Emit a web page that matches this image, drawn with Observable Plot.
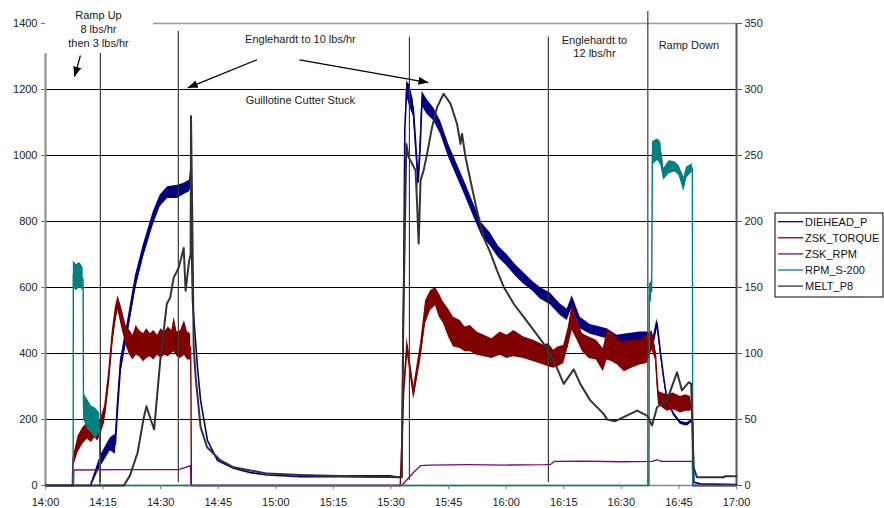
<!DOCTYPE html>
<html><head><meta charset="utf-8">
<script src="https://cdn.jsdelivr.net/npm/d3@7"></script>
<script src="https://cdn.jsdelivr.net/npm/@observablehq/plot@0.6"></script>
<style>
body{margin:0;background:#fff;}
#chart{width:884px;height:508px;}
</style></head><body><div id="chart"></div>
<script>
// Time = minutes after 14:00. Rows: [minute, value] or [minute, low, high] (noisy band), left-axis units.
const seriesNames = ["DIEHEAD_P","ZSK_TORQUE","ZSK_RPM","RPM_S-200","MELT_P8"];
const seriesColors = ["#000080","#800000","#800080","#008080","#333333"];

const DIEHEAD_P = [[0,0],[11.7,0],[14.3,55,90],[16.9,105,145],[18.2,95,155],[18.75,200,260],[19.5,330,380],[21.4,455,500],[23.4,590,635],[25.5,690,730],[28.1,790,830],[29.9,845,880],[31.8,870,905],[34.4,870,910],[35.9,880,915],[37.5,890,925],[37.8,900,960],[38.3,560],[39.6,357],[40.4,258],[42.2,136],[44.8,76],[49.0,52],[53.4,39],[57.8,32],[66.4,27],[79.4,24,30],[89.8,22,30],[92.8,25],[93.3,600],[93.6,1080],[94.1,1180,1225],[94.8,1150,1215],[95.8,1120,1170],[96.5,1000,1050],[97.1,900,940],[97.6,1000,1050],[98.1,1150,1195],[99.4,1125,1170],[101.1,1105,1145],[102.9,1065,1105],[105.0,995,1035],[107.2,935,975],[109.4,875,915],[111.5,815,855],[113.7,755,795],[115.9,725,765],[118.0,690,725],[120.2,665,700],[122.4,635,670],[124.6,610,645],[126.8,590,620],[128.9,565,600],[131.5,548,583],[134.1,515,550],[135.9,500,535],[137.2,540,575],[139.3,475,510],[141.9,458,488],[146.3,445,475],[148.9,425,455],[151.5,430,460],[154.9,435,465],[156.7,435,465],[158.4,425,455],[159.3,480,505],[160.2,395,410],[161.0,325,335],[161.9,255,265],[163.6,212,222],[165.4,185,195],[167.1,180,190],[168.2,190,200],[168.6,190],[168.9,10],[170.6,5],[180,3]];

const ZSK_TORQUE = [[0,0],[7.0,0],[7.1,50,80],[8.5,100,150],[9.7,125,175],[10.9,140,190],[12.0,130,185],[12.8,145,195],[13.6,135,185],[14.3,150,200],[15.4,190,240],[16.4,290,340],[17.4,420,470],[18.2,490,540],[18.9,530,575],[19.8,480,540],[21.1,420,480],[22.0,395,470],[22.8,380,455],[23.6,395,485],[24.5,390,470],[25.5,375,460],[26.4,385,475],[27.3,390,460],[28.2,380,470],[29.2,395,455],[30.1,385,475],[31.0,395,465],[32.0,390,480],[32.9,400,470],[33.5,405,510],[34.3,390,465],[35.2,385,470],[36.2,395,500],[37.0,380,465],[37.8,380,460],[37.9,280],[38.0,0],
[92.4,0],[93.3,260,300],[94.2,400,450],[94.6,370,410],[95.9,260,300],[97.7,380,430],[99.0,490,560],[100.3,530,590],[101.6,545,600],[102.6,510,580],[103.7,490,555],[105.0,450,535],[106.3,420,510],[108.0,415,500],[109.3,405,480],[110.7,405,485],[112.4,395,465],[114.3,390,455],[116.3,385,445],[118.5,395,465],[120.2,385,455],[122.0,390,470],[124.6,385,450],[127.2,375,440],[129.8,365,425],[131.0,360,430],[132.4,355,410],[133.5,360,420],[135.0,370,425],[136.2,420,480],[137.2,470,550],[138.5,440,500],[139.9,405,460],[141.6,385,450],[143.5,380,440],[145.3,345,415],[146.3,380,470],[147.6,375,465],[149.0,365,445],[150.8,345,435],[152.7,355,440],[154.9,365,440],[156.7,370,455],[158.0,410,470],[158.9,380,420],[159.3,300,340],[159.7,245,285],[161.9,225,275],[163.5,230,280],[165.4,220,270],[166.8,225,275],[168.0,225,270],[168.5,230],[168.6,0],[180,0]];

const ZSK_RPM = [[0,0],[7.3,0],[7.4,47],[20,48],[34.7,48],[37.8,60],[37.9,0],[92.8,0],[95.9,40],[97.7,60],[100,62],[110,63],[120,62],[130,63],[131.6,64],[132.5,73],[140,74],[150,72],[158,73],[159.3,78],[160.5,73],[168.5,73],[168.6,0],[180,0]];

const RPM_S200 = [[0,0],[7.2,0],[7.25,600,680],[8.0,590,670],[9.0,600,675],[9.8,590,660],[9.9,200,280],[11.0,170,260],[12.0,160,240],[13.0,140,235],[14.1,160,220],[14.15,0],[157.2,0],[157.3,550,610],[157.9,560,620],[158.1,960,1040],[158.5,975,1045],[159.5,985,1050],[160.3,970,1040],[161.0,925,960],[162.5,945,985],[164.0,950,980],[165.0,940,970],[166.3,890,935],[167.0,930,965],[168.5,950,975],[168.6,0],[180,0]];

const MELT_P8 = [[0,0],[20.4,0],[22.0,30],[24.0,100],[25.5,200],[26.3,240],[27.4,200],[28.3,170],[29.9,380],[31.6,550],[32.5,570],[33.4,630],[34.7,660],[36.0,720],[36.5,590],[37.4,680],[37.8,700],[37.9,1120],[38.2,850],[38.6,420],[39.1,330],[40.4,177],[42.1,116],[45.6,76],[49.0,55],[57.8,36],[66.4,32],[79.4,28],[92.0,25],[92.8,25],[93.2,500],[94.0,1035],[94.6,995],[95.5,975],[96.4,955],[96.8,854],[97.2,733],[97.7,924],[98.5,955],[99.4,1005],[100.7,1086],[102.0,1146],[103.7,1187],[105.5,1157],[107.2,1096],[108.1,1035],[108.5,1066],[109.4,995],[110.7,924],[112.4,833],[114.1,752],[115.9,705],[117.6,652],[119.4,601],[122.0,550],[124.6,510],[127.2,470],[129.8,429],[132.4,379],[135.0,308],[137.6,352],[139.3,308],[141.9,258],[145.4,217],[146.3,200],[148.4,195],[150.6,207],[154.1,227],[156.7,212],[158.0,182],[159.3,237],[161.9,258],[164.5,343],[165.8,288],[167.6,313],[168.2,308],[168.8,55],[169.7,25],[176.6,25],[177.1,28],[180,28]];

const seriesData = [DIEHEAD_P, ZSK_TORQUE, ZSK_RPM, RPM_S200, MELT_P8];
const seriesWidths = [1.6, 1.4, 1.3, 1.4, 2.0];

const xTickLabels = ["14:00","14:15","14:30","14:45","15:00","15:15","15:30","15:45","16:00","16:15","16:30","16:45","17:00"];
const yTicksLeft = [0,200,400,600,800,1000,1200,1400];
const rightAxisRatio = 4; // right axis = left / 4 (0–350)

// annotation lines (vertical), texts and arrows
const vlineMin = [14.3, 34.6, 94.8, 131.0, 156.9];
const vlineTop = [1309, 1376, 1358, 1358, 1436];
const vlineBottom = [9, 9, 15, 9, 0];
const noteText = ["Ramp Up","8 lbs/hr","then 3 lbs/hr","Englehardt to 10 lbs/hr","Guillotine Cutter Stuck","Englehardt to","12 lbs/hr","Ramp Down"];
const noteMin = [13.8, 13.8, 13.8, 66.4, 66.4, 143.0, 143.0, 167.6];
const noteVal = [1425, 1382, 1339, 1351, 1166, 1349, 1308, 1334];
const arrowFromMin = [9.1, 55.1, 66.15];
const arrowFromVal = [1303, 1290, 1290];
const arrowToMin = [7.55, 37.06, 99.74];
const arrowToVal = [1239, 1205, 1221];

const t0 = Date.UTC(2000, 0, 1, 14, 0);
const T = m => new Date(t0 + m * 60000);
const parseHM = s => { const [h, m] = s.split(":").map(Number); return (h - 14) * 60 + m; };

const marks = [];
// grid and axis lines
marks.push(Plot.ruleY(yTicksLeft.filter(v => v > 0 && v < 1400), {x1: T(0), x2: T(180), stroke: "#000", strokeWidth: 1}));
marks.push(Plot.ruleY([1400], {x1: T(28.1), x2: T(180), stroke: "#999", strokeWidth: 1.5}));
marks.push(Plot.ruleY([0], {x1: T(0), x2: T(180), stroke: "#888", strokeWidth: 1.5}));
marks.push(Plot.ruleX([T(0)], {y1: 0, y2: 1309, stroke: "#888", strokeWidth: 2}));
marks.push(Plot.ruleX([T(180)], {y1: 0, y2: 1400, stroke: "#555", strokeWidth: 2}));

seriesData.forEach((arr, i) => {
  const rows = arr.map(d => ({t: T(d[0]), lo: d[1], hi: d.length > 2 ? d[2] : d[1], mid: d.length > 2 ? (d[1] + d[2]) / 2 : d[1]}));
  marks.push(Plot.areaY(rows, {x: "t", y1: "lo", y2: "hi", fill: seriesColors[i]}));
  marks.push(Plot.line(rows, {x: "t", y: "mid", stroke: seriesColors[i], strokeWidth: seriesWidths[i]}));
});

marks.push(Plot.ruleX(vlineMin.map((m, i) => ({t: T(m), y1: vlineBottom[i], y2: vlineTop[i]})), {x: "t", y1: "y1", y2: "y2", stroke: "#3a3a3a", strokeWidth: 1.2}));

marks.push(Plot.text(noteText.map((s, i) => ({s, t: T(noteMin[i]), v: noteVal[i]})), {x: "t", y: "v", text: "s", textAnchor: "middle", fill: "#1a1a1a", fontSize: 11}));

marks.push(Plot.link(arrowFromMin.map((m, i) => ({x1: T(m), y1: arrowFromVal[i], x2: T(arrowToMin[i]), y2: arrowToVal[i]})), {x1: "x1", y1: "y1", x2: "x2", y2: "y2", stroke: "#010101", strokeWidth: 1.2}));

marks.push(Plot.axisX({ticks: xTickLabels.map(s => T(parseHM(s))), tickFormat: d3.utcFormat("%H:%M"), tickSize: 4, tickPadding: 9, fontSize: 11, stroke: "#777", label: null}));
marks.push(Plot.axisY({anchor: "left", ticks: yTicksLeft, tickFormat: d => String(d), tickSize: 4, tickPadding: 4, fontSize: 11, stroke: "#777", label: null}));
marks.push(Plot.axisY({anchor: "right", ticks: yTicksLeft, tickFormat: d => String(d / rightAxisRatio), tickSize: 5, tickPadding: 3, fontSize: 11, stroke: "#555", label: null}));

const svgEl = Plot.plot({
  width: 884, height: 508,
  marginLeft: 45, marginRight: 148, marginTop: 23, marginBottom: 23,
  x: {type: "utc", domain: [T(0), T(180)]},
  y: {domain: [0, 1400]},
  style: {fontFamily: "'Liberation Sans', Arial, sans-serif", fontSize: "11px", color: "#222", background: "#fff"},
  marks
});
document.getElementById("chart").appendChild(svgEl);

// filled arrowheads on the annotation arrows
const svg = d3.select(svgEl);
const defs = svg.append("defs");
defs.append("marker").attr("id", "ahead").attr("markerUnits", "userSpaceOnUse")
  .attr("markerWidth", 10).attr("markerHeight", 8).attr("refX", 10).attr("refY", 4).attr("orient", "auto")
  .append("path").attr("d", "M0,0L10,4L0,8Z").attr("fill", "#000");
svgEl.querySelectorAll('[stroke="#010101"] path, path[stroke="#010101"]').forEach(p => p.setAttribute("marker-end", "url(#ahead)"));

// legend (drawn inside the SVG at the right)
const lg = svg.append("g").attr("font-family", "'Liberation Sans', Arial, sans-serif").attr("font-size", 11).attr("text-anchor", "start");
lg.append("rect").attr("x", 775).attr("y", 213).attr("width", 108).attr("height", 84).attr("fill", "#fff").attr("stroke", "#000").attr("stroke-width", 1);
seriesNames.forEach((n, i) => {
  const y = 221.7 + i * 16.1;
  lg.append("line").attr("x1", 778).attr("x2", 803).attr("y1", y).attr("y2", y).attr("stroke", seriesColors[i]).attr("stroke-width", 1.3);
  lg.append("text").attr("x", 805).attr("y", y).attr("dy", "0.35em").attr("fill", "#111").attr("text-anchor", "start").text(n);
});
</script></body></html>
